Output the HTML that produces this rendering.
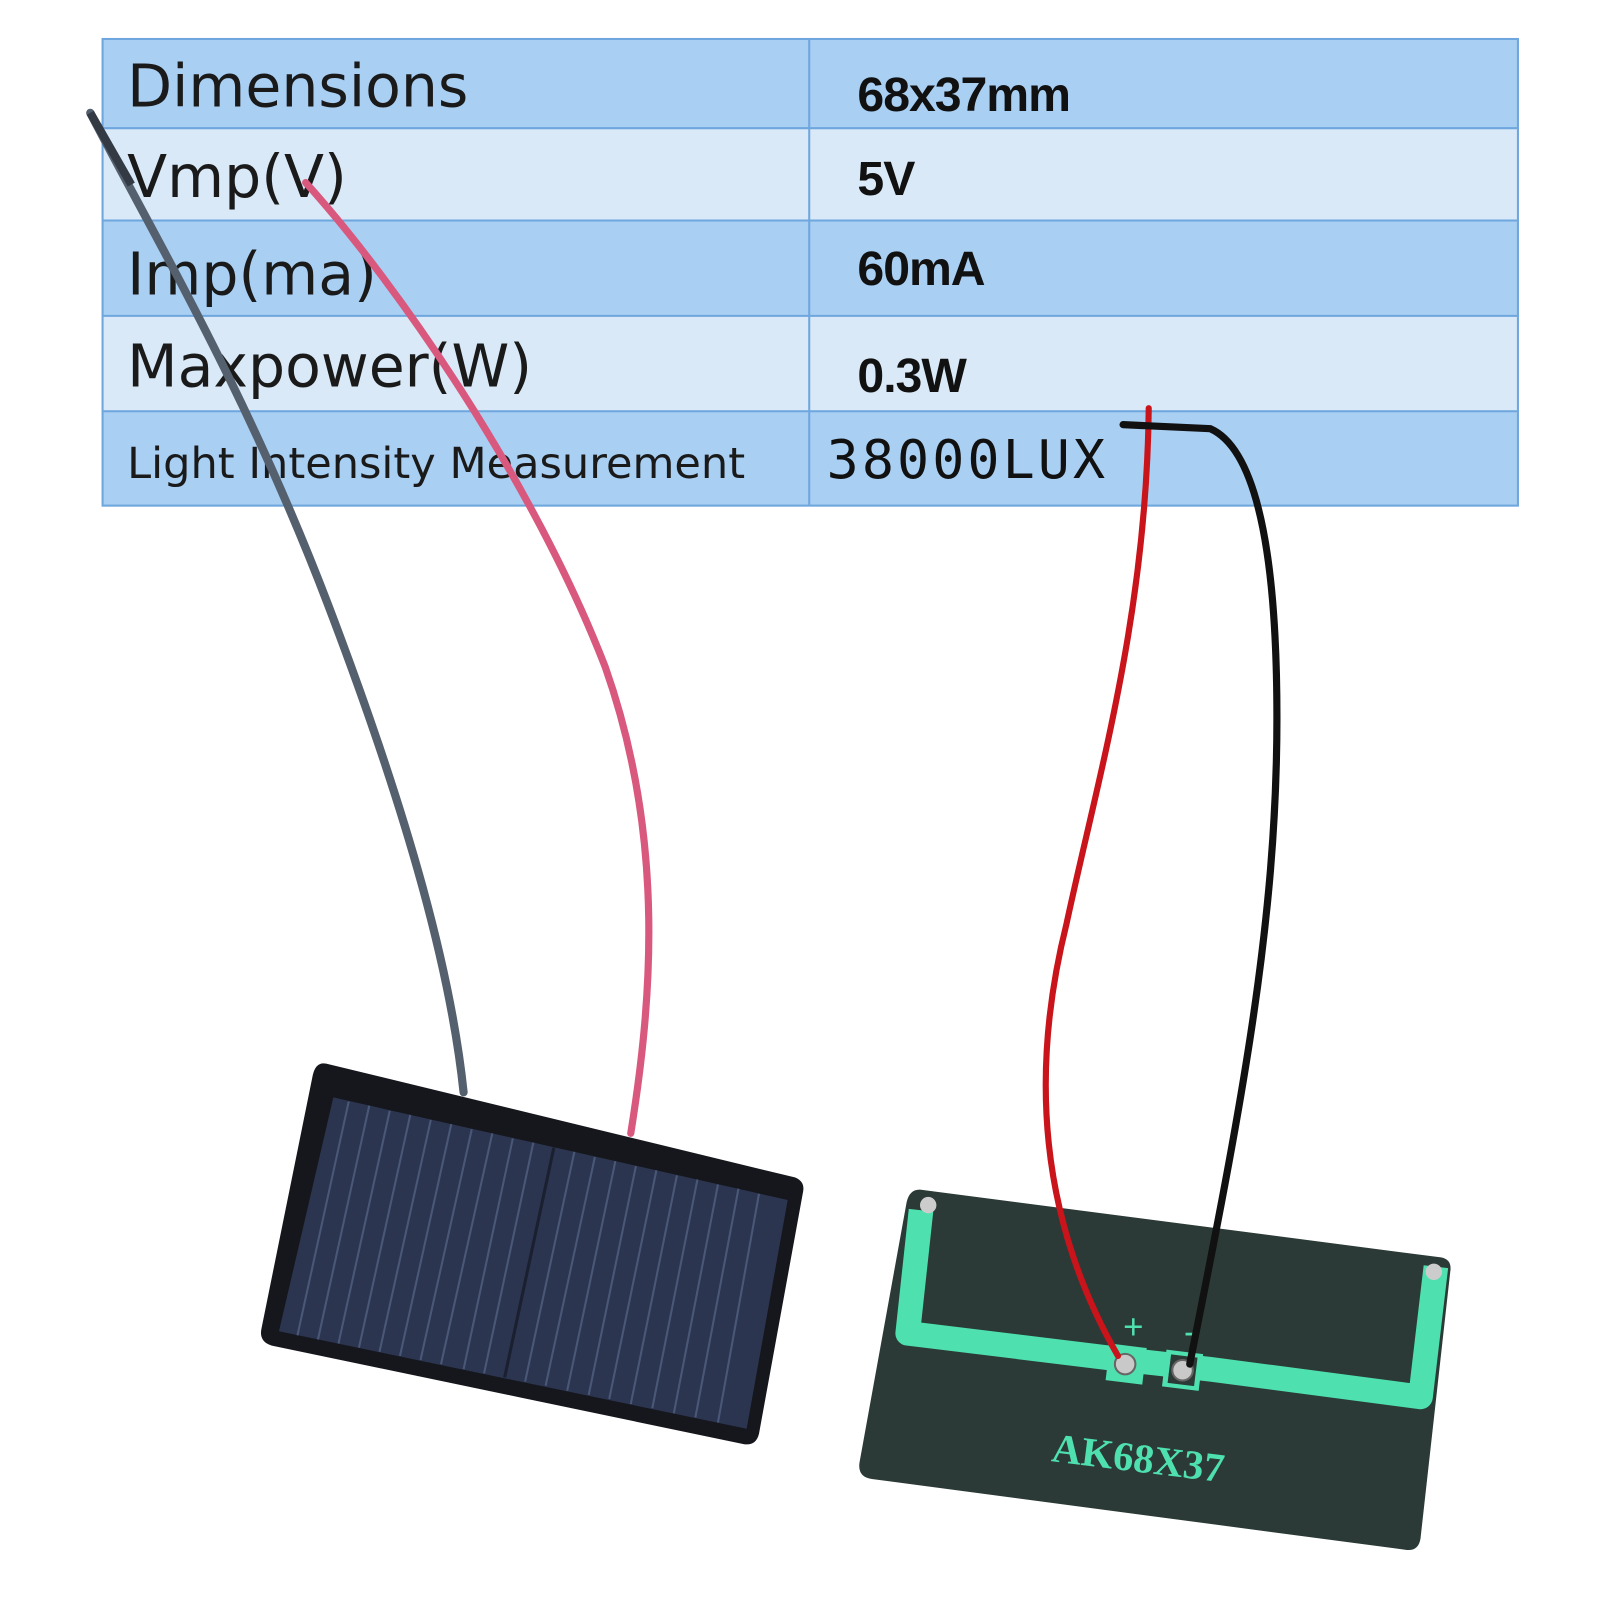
<!DOCTYPE html>
<html><head><meta charset="utf-8"><style>
html,body{margin:0;padding:0;background:#fff;}
svg{display:block;}
.l{font-family:"DejaVu Sans","Liberation Sans",sans-serif;fill:#1a1a1a;}
.r{font-family:"Liberation Sans",sans-serif;font-weight:bold;fill:#111;letter-spacing:-1px;}
</style></head><body>
<svg width="1600" height="1600" viewBox="0 0 1560 1560" xmlns="http://www.w3.org/2000/svg">
<rect width="1560" height="1560" fill="#fff"/>
<rect x="100" y="38" width="1380" height="87" fill="#a9cff3"/>
<rect x="100" y="125" width="1380" height="90" fill="#d9e9f8"/>
<rect x="100" y="215" width="1380" height="93" fill="#a9cff3"/>
<rect x="100" y="308" width="1380" height="93" fill="#d9e9f8"/>
<rect x="100" y="401" width="1380" height="92" fill="#a9cff3"/>
<g stroke="#6ea6de" stroke-width="2" fill="none">
<rect x="100" y="38" width="1380" height="455"/>
<line x1="100" y1="125" x2="1480" y2="125"/>
<line x1="100" y1="215" x2="1480" y2="215"/>
<line x1="100" y1="308" x2="1480" y2="308"/>
<line x1="100" y1="401" x2="1480" y2="401"/>
<line x1="789" y1="38" x2="789" y2="493"/>
</g>
<text class="l" x="124" y="104" font-size="57">Dimensions</text>
<text class="l" x="124" y="192" font-size="57">Vmp(V)</text>
<text class="l" x="124" y="287" font-size="57">Imp(ma)</text>
<text class="l" x="124" y="377" font-size="57">Maxpower(W)</text>
<text class="l" x="124" y="466" font-size="42">Light Intensity Measurement</text>
<text class="r" x="836" y="108" font-size="47">68x37mm</text>
<text class="r" x="836" y="190" font-size="47">5V</text>
<text class="r" x="836" y="278" font-size="47">60mA</text>
<text class="r" x="836" y="382" font-size="47">0.3W</text>
<text x="806" y="466" font-size="52" font-family="'DejaVu Sans Mono','Liberation Mono',monospace" fill="#111" letter-spacing="3">38000LUX</text>
<path d="M318,1037 L775,1148 Q785,1152 783,1162 L740,1398 Q737,1410 725,1408 L265,1312 Q252,1308 255,1295 L305,1048 Q308,1035 318,1037 Z" fill="#15171c"/>
<path d="M325,1070 L768,1170 L728,1393 L272,1298 Z" fill="#2c3550"/>
<g stroke="#4a5878" stroke-width="2">
<line x1="340" y1="1074" x2="290" y2="1302"/><line x1="360" y1="1078" x2="310" y2="1306"/>
<line x1="380" y1="1083" x2="330" y2="1310"/><line x1="400" y1="1087" x2="350" y2="1314"/>
<line x1="420" y1="1092" x2="370" y2="1318"/><line x1="440" y1="1096" x2="390" y2="1322"/>
<line x1="460" y1="1101" x2="410" y2="1326"/><line x1="480" y1="1105" x2="430" y2="1330"/>
<line x1="500" y1="1110" x2="452" y2="1335"/><line x1="520" y1="1114" x2="472" y2="1339"/>
<line x1="560" y1="1123" x2="512" y2="1347"/><line x1="580" y1="1128" x2="532" y2="1351"/>
<line x1="600" y1="1132" x2="553" y2="1356"/><line x1="620" y1="1137" x2="574" y2="1360"/>
<line x1="640" y1="1141" x2="594" y2="1364"/><line x1="660" y1="1146" x2="615" y2="1369"/>
<line x1="680" y1="1150" x2="636" y2="1373"/><line x1="700" y1="1155" x2="657" y2="1378"/>
<line x1="720" y1="1159" x2="678" y2="1382"/><line x1="740" y1="1164" x2="700" y2="1387"/>
</g>
<line x1="540" y1="1119" x2="492" y2="1343" stroke="#1a2030" stroke-width="3"/>
<path d="M898,1160 L1405,1226 Q1416,1228 1414,1240 L1385,1500 Q1383,1513 1370,1511 L850,1442 Q836,1440 838,1426 L884,1172 Q887,1159 898,1160 Z" fill="#2b3a36"/>
<path d="M898,1180 L885,1300 L1090,1325 L1180,1335 L1385,1362 L1400,1235" fill="none" stroke="#4fe0b0" stroke-width="24" stroke-linejoin="round"/>
<rect x="1080" y="1312" width="36" height="36" fill="#4fe0b0" transform="rotate(7 1098 1330)"/>
<rect x="1135" y="1318" width="36" height="36" fill="#4fe0b0" transform="rotate(7 1153 1336)"/>
<rect x="1140" y="1322" width="26" height="28" fill="#2b3a36" transform="rotate(7 1153 1336)"/>
<circle cx="1097" cy="1330" r="10" fill="#c9c9c9" stroke="#666" stroke-width="2"/>
<circle cx="1153" cy="1336" r="10" fill="#c9c9c9" stroke="#666" stroke-width="2"/>
<circle cx="905" cy="1175" r="8" fill="#ccc"/><circle cx="1398" cy="1240" r="8" fill="#ccc"/>
<text x="1105" y="1305" font-size="34" fill="#4fe0b0" font-family="Liberation Sans,sans-serif" text-anchor="middle">+</text>
<text x="1160" y="1310" font-size="34" fill="#4fe0b0" font-family="Liberation Sans,sans-serif" text-anchor="middle">-</text>
<text x="1110" y="1435" font-size="40" font-weight="bold" fill="#4fe0b0" font-family="Liberation Serif,serif" text-anchor="middle" transform="rotate(7 1110 1420)">AK68X37</text>
<path d="M88,110 C150,230 240,380 320,590 C400,800 440,950 452,1065" fill="none" stroke="#55606e" stroke-width="8" stroke-linecap="round"/>
<path d="M88,110 L128,180" stroke="#333a44" stroke-width="8"/>
<path d="M298,178 C390,280 520,470 590,650 C650,820 635,980 615,1105" fill="none" stroke="#d9587e" stroke-width="7" stroke-linecap="round"/>
<path d="M1120,398 C1118,600 1070,760 1040,900 C1000,1060 1020,1200 1090,1322" fill="none" stroke="#c8141a" stroke-width="6" stroke-linecap="round"/>
<path d="M1095,414 L1180,418 C1230,440 1245,560 1245,700 C1245,900 1210,1080 1160,1330" fill="none" stroke="#111" stroke-width="7" stroke-linecap="round"/>
</svg>
</body></html>
